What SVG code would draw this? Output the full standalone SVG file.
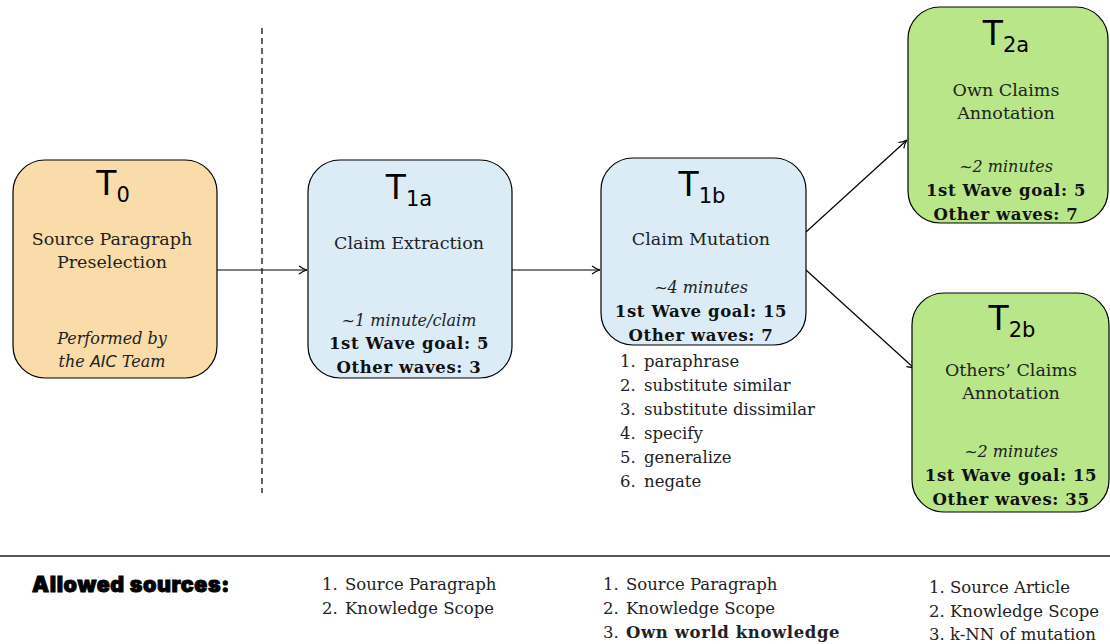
<svg xmlns="http://www.w3.org/2000/svg" width="1110" height="644" viewBox="0 0 1110 644">
<style>
.box{stroke:#000;stroke-width:1.2}
.t0{fill:#F9DCA9}.t1{fill:#DCECF7}.t2{fill:#B8E689}
.T{font-family:"DejaVu Sans","Liberation Sans",sans-serif;font-size:33px;fill:#000}
.sub{font-size:21px}
.s{font-family:"DejaVu Serif","Liberation Serif",serif;font-size:17.5px;fill:#222}
.i{font-family:"DejaVu Serif","Liberation Serif",serif;font-size:16px;font-style:italic;fill:#222}
.b{font-family:"DejaVu Serif","Liberation Serif",serif;font-size:16.5px;font-weight:bold;letter-spacing:0.6px;fill:#111}
.l{font-family:"DejaVu Serif","Liberation Serif",serif;font-size:16.5px;fill:#222}
.ss{font-family:"DejaVu Sans","Liberation Sans",sans-serif}
.hd{font-family:Inter,Roboto,"Noto Sans",sans-serif;font-weight:900;font-size:21.5px;letter-spacing:0.6px;fill:#000;stroke:#000;stroke-width:0.9}
.c{stroke:#000;stroke-width:1.2;fill:none}
</style>
<defs>
<marker id="ah" viewBox="-10 -6 12 12" markerWidth="12" markerHeight="12" refX="0" refY="0" orient="auto" markerUnits="userSpaceOnUse">
<path d="M-8,-4 Q-4,-1 0,0 Q-4,1 -8,4" fill="none" stroke="#000" stroke-width="1.1"/>
</marker>
</defs>
<g id="connectors">
<line class="c" x1="262" y1="28" x2="262" y2="493" stroke-dasharray="6,4"/>
<line class="c" x1="217" y1="270" x2="307" y2="270" marker-end="url(#ah)"/>
<line class="c" x1="512" y1="270" x2="600" y2="270" marker-end="url(#ah)"/>
<line class="c" x1="806" y1="232" x2="907" y2="140" marker-end="url(#ah)"/>
<line class="c" x1="806" y1="270" x2="915" y2="369" marker-end="url(#ah)"/>
<line x1="0" y1="556" x2="1110" y2="556" stroke="#555" stroke-width="2"/>
</g>
<g id="T0">
<rect class="box t0" x="13" y="160" width="204" height="218" rx="32"/>
<text class="T" x="113" y="195" text-anchor="middle">T<tspan class="sub" dy="7">0</tspan></text>
<text class="s" x="112" y="245" text-anchor="middle">Source Paragraph</text>
<text class="s" x="112" y="268" text-anchor="middle">Preselection</text>
<text class="i" x="112" y="344" text-anchor="middle">Performed by</text>
<text class="i" x="112" y="367" text-anchor="middle">the <tspan class="ss">AIC</tspan> Team</text>
</g>
<g id="T1a">
<rect class="box t1" x="308" y="160" width="204" height="218" rx="32"/>
<text class="T" x="409" y="199" text-anchor="middle">T<tspan class="sub" dy="7">1a</tspan></text>
<text class="s" x="409" y="249" text-anchor="middle">Claim Extraction</text>
<text class="i" x="409" y="326" text-anchor="middle">~1 minute/claim</text>
<text class="b" x="409" y="349" text-anchor="middle">1st Wave goal: 5</text>
<text class="b" x="409" y="373" text-anchor="middle">Other waves: 3</text>
</g>
<g id="T1b">
<rect class="box t1" x="601" y="158" width="205" height="187" rx="32"/>
<text class="T" x="702" y="196" text-anchor="middle">T<tspan class="sub" dy="7">1b</tspan></text>
<text class="s" x="701" y="245" text-anchor="middle">Claim Mutation</text>
<text class="i" x="701" y="293" text-anchor="middle">~4 minutes</text>
<text class="b" x="701" y="317" text-anchor="middle">1st Wave goal: 15</text>
<text class="b" x="701" y="341" text-anchor="middle">Other waves: 7</text>
</g>
<g id="T1b-list" class="l">
<text x="620" y="367">1.</text><text x="644" y="367">paraphrase</text>
<text x="620" y="391">2.</text><text x="644" y="391">substitute similar</text>
<text x="620" y="415">3.</text><text x="644" y="415">substitute dissimilar</text>
<text x="620" y="439">4.</text><text x="644" y="439">specify</text>
<text x="620" y="463">5.</text><text x="644" y="463">generalize</text>
<text x="620" y="487">6.</text><text x="644" y="487">negate</text>
</g>
<g id="T2a">
<rect class="box t2" x="908" y="7" width="200" height="216" rx="32"/>
<text class="T" x="1006" y="45" text-anchor="middle">T<tspan class="sub" dy="7">2a</tspan></text>
<text class="s" x="1006" y="96" text-anchor="middle">Own Claims</text>
<text class="s" x="1006" y="119" text-anchor="middle">Annotation</text>
<text class="i" x="1006" y="172" text-anchor="middle">~2 minutes</text>
<text class="b" x="1006" y="196" text-anchor="middle">1st Wave goal: 5</text>
<text class="b" x="1006" y="220" text-anchor="middle">Other waves: 7</text>
</g>
<g id="T2b">
<rect class="box t2" x="912" y="293" width="197" height="219" rx="32"/>
<text class="T" x="1012" y="330" text-anchor="middle">T<tspan class="sub" dy="7">2b</tspan></text>
<text class="s" x="1011" y="376" text-anchor="middle">Others’ Claims</text>
<text class="s" x="1011" y="399" text-anchor="middle">Annotation</text>
<text class="i" x="1011" y="457" text-anchor="middle">~2 minutes</text>
<text class="b" x="1011" y="481" text-anchor="middle">1st Wave goal: 15</text>
<text class="b" x="1011" y="505" text-anchor="middle">Other waves: 35</text>
</g>
<g id="sources">
<text class="hd" x="32" y="592">Allowed sources:</text>
<g class="l">
<text x="322" y="590">1.</text><text x="345" y="590">Source Paragraph</text>
<text x="322" y="614">2.</text><text x="345" y="614">Knowledge Scope</text>
<text x="603" y="590">1.</text><text x="626" y="590">Source Paragraph</text>
<text x="603" y="614">2.</text><text x="626" y="614">Knowledge Scope</text>
<text x="603" y="638">3.</text><text x="626" y="638" font-weight="bold" letter-spacing="0.6">Own world knowledge</text>
<text x="929" y="593">1.</text><text x="950" y="593">Source Article</text>
<text x="929" y="617">2.</text><text x="950" y="617">Knowledge Scope</text>
<text x="929" y="640">3.</text><text x="950" y="640">k-NN of mutation</text>
</g>
</g>
</svg>
